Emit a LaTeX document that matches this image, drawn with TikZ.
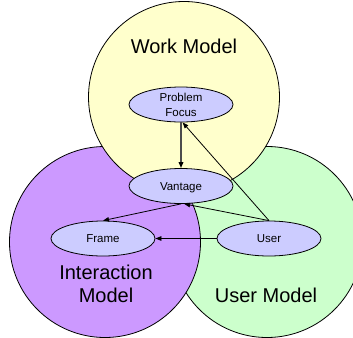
\documentclass[tikz,border=0pt]{standalone}
\usepackage{fontspec}
\setmainfont{Liberation Sans}
\usetikzlibrary{shapes.geometric,arrows.meta}

\definecolor{workfill}{HTML}{FFFFCC}
\definecolor{interfill}{HTML}{CC99FF}
\definecolor{userfill}{HTML}{CCFFCC}
\definecolor{conceptfill}{HTML}{CCCCFF}

\tikzset{
  model/.style={circle, draw=black, line width=0.8pt, inner sep=0pt, minimum size=191pt},
  concept/.style={ellipse, draw=black, line width=0.8pt, fill=conceptfill, inner sep=0pt,
    minimum width=104pt, minimum height=35pt, align=center,
    font=\fontsize{11.5}{15}\selectfont},
  bigtext/.style={anchor=base, align=center, font=\fontsize{20}{23.4}\selectfont},
  link/.style={line width=0.8pt, -{Triangle[length=6pt,width=4.5pt]}},
  heavylink/.style={line width=1.5pt, draw=black!70, -{Triangle[length=6pt,width=4.5pt,color=black]}}
}

\begin{document}
\begin{tikzpicture}[x=1pt,y=-1pt]
\useasboundingbox (0,0) rectangle (353,337);
\clip (0,0) rectangle (353,337);

% the three models, back to front
\node[model, fill=userfill]  (usermodel)  at (267,242) {};
\node[model, fill=interfill] (intermodel) at (105,242) {};
\node[model, fill=workfill]  (workmodel)  at (184,97)  {};

% model titles (base anchor sits on the last line)
\node[bigtext] (worklabel)  at (184,54)    {Work Model};
\node[bigtext] (interlabel) at (106,302.7) {Interaction\\Model};
\node[bigtext] (userlabel)  at (266,302.7) {User Model};

% concepts
\node[concept] (focus)   at (181,104.5) {Problem\\Focus};
\node[concept, text height=8.3pt, text depth=0pt] (vantage) at (181,186)   {Vantage};
\node[concept] (frame)   at (103,238.5) {Frame};
\node[concept] (user)    at (269,238.5) {User};

% relations
\draw[heavylink] (focus.south) -- (vantage.north);
\draw[link] (user.north) -- (focus.-85);
\draw[link] (user.north) -- (vantage.-80);
\draw[link] (vantage.south) -- (frame.north);
\draw[link] (user.west) -- (frame.east);
\end{tikzpicture}
\end{document}
